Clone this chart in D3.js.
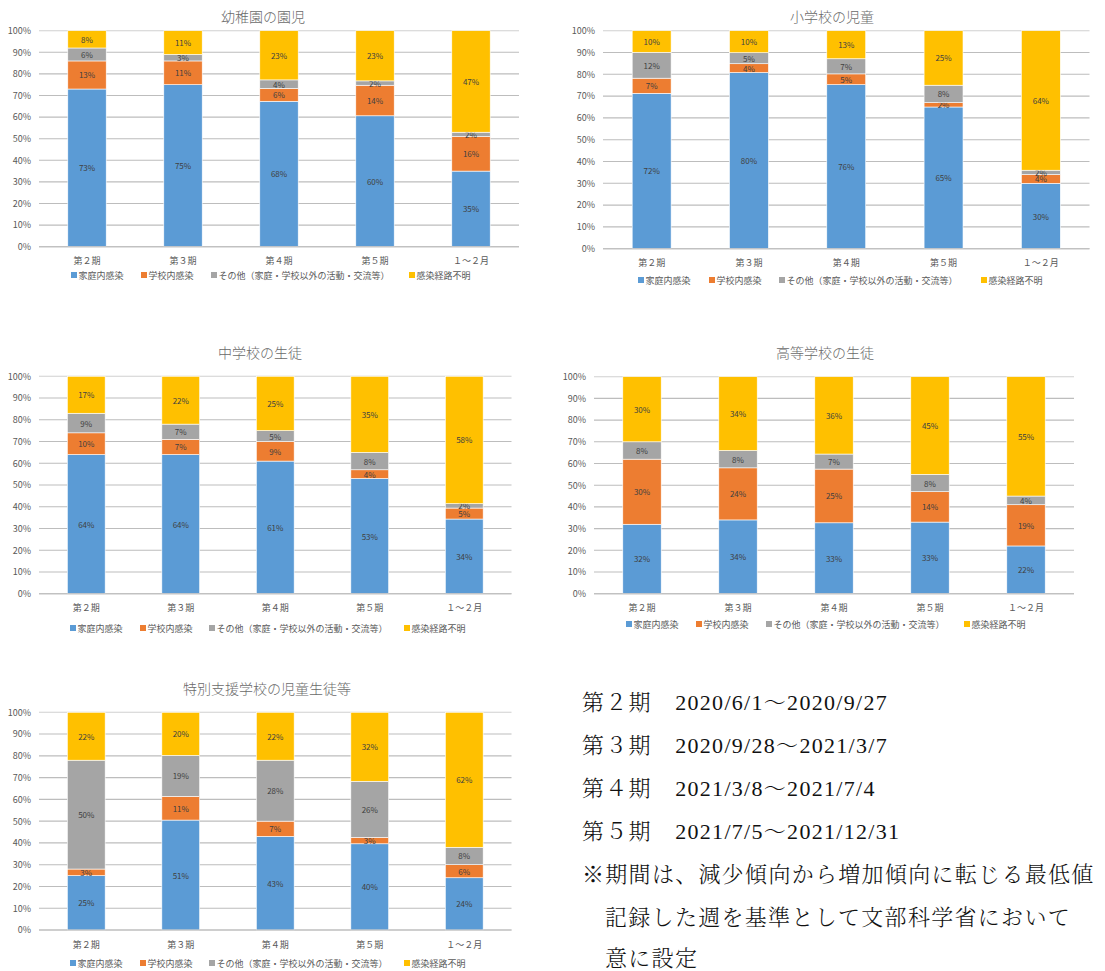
<!DOCTYPE html>
<html>
<head>
<meta charset="utf-8">
<script src="https://cdn.jsdelivr.net/npm/d3@7/dist/d3.min.js"></script>
<style>
  html, body { margin: 0; padding: 0; background: #fff; overflow: hidden; }
  svg { display: block; }
</style>
</head>
<body>
<svg id="chart" width="1105" height="971"></svg>
<script>
// ---------- data ----------
const categories = ["第２期", "第３期", "第４期", "第５期", "１～２月"];
const seriesNames = ["家庭内感染", "学校内感染", "その他（家庭・学校以外の活動・交流等）", "感染経路不明"];
const seriesColors = ["#5B9BD5", "#ED7D31", "#A5A5A5", "#FFC000"];
const yTicks = [0, 10, 20, 30, 40, 50, 60, 70, 80, 90, 100];

// each row: [家庭内, 学校内, その他, 不明] per category
const kindergartenValues = [[73, 13, 6, 8], [75, 11, 3, 11], [68, 6, 4, 23], [60, 14, 2, 23], [35, 16, 2, 47]];
const elementaryValues   = [[72, 7, 12, 10], [80, 4, 5, 10], [76, 5, 7, 13], [65, 2, 8, 25], [30, 4, 2, 64]];
const juniorHighValues   = [[64, 10, 9, 17], [64, 7, 7, 22], [61, 9, 5, 25], [53, 4, 8, 35], [34, 5, 2, 58]];
const highSchoolValues   = [[32, 30, 8, 30], [34, 24, 8, 34], [33, 25, 7, 36], [33, 14, 8, 45], [22, 19, 4, 55]];
const specialNeedsValues = [[25, 3, 50, 22], [51, 11, 19, 20], [43, 7, 28, 22], [40, 3, 26, 32], [24, 6, 8, 62]];

const chartTitles = ["幼稚園の園児", "小学校の児童", "中学校の生徒", "高等学校の生徒", "特別支援学校の児童生徒等"];

const noteLines = [
  "第２期　2020/6/1～2020/9/27",
  "第３期　2020/9/28～2021/3/7",
  "第４期　2021/3/8～2021/7/4",
  "第５期　2021/7/5～2021/12/31",
  "※期間は、減少傾向から増加傾向に転じる最低値",
  "記録した週を基準として文部科学省において",
  "意に設定"
];

// ---------- layout ----------
const layouts = [
  { values: kindergartenValues, title: chartTitles[0], tx: 263, ty: 16, x0: 39, x1: 519, yTop: 30.7, yBot: 246.7, labY: 261, legY: 275, legX: [71, 141, 211, 409] },
  { values: elementaryValues, title: chartTitles[1], tx: 832, ty: 16, x0: 603, x1: 1089.5, yTop: 30.7, yBot: 248.7, labY: 263, legY: 280, legX: [638, 709, 779, 981] },
  { values: juniorHighValues, title: chartTitles[2], tx: 260, ty: 352, x0: 39, x1: 511.5, yTop: 376.3, yBot: 593.7, labY: 608, legY: 628, legX: [70, 140, 209, 404] },
  { values: highSchoolValues, title: chartTitles[3], tx: 825, ty: 352, x0: 594, x1: 1074, yTop: 376.7, yBot: 593.7, labY: 608, legY: 624, legX: [626, 696, 766, 964] },
  { values: specialNeedsValues, title: chartTitles[4], tx: 267, ty: 688, x0: 39, x1: 511.5, yTop: 712.3, yBot: 930, labY: 944, legY: 963, legX: [70, 140, 209, 404] }
];

const FONT = "'Noto Sans CJK JP', 'Noto Sans', sans-serif";
const svg = d3.select("#chart");

layouts.forEach(L => {
  const g = svg.append("g");
  const x = d3.scaleBand().domain(categories).range([L.x0, L.x1]).paddingInner(0.6).paddingOuter(0.3);
  const y = d3.scaleLinear().domain([0, 1]).range([L.yBot, L.yTop]);

  // title
  g.append("text").attr("x", L.tx).attr("y", L.ty).attr("text-anchor", "middle")
    .attr("dominant-baseline", "central").attr("font-family", FONT).attr("font-size", 14)
    .attr("font-weight", 300).attr("fill", "#6a6a6a").text(L.title);

  // gridlines
  g.append("g").selectAll("line").data(yTicks).join("line")
    .attr("x1", L.x0).attr("x2", L.x1)
    .attr("y1", d => y(d / 100)).attr("y2", d => y(d / 100))
    .attr("stroke", d => d === 100 ? "#D0D0D0" : "#BDBDBD").attr("stroke-width", 1.1);

  // y axis labels
  const yAxis = d3.axisLeft(y).tickValues(yTicks.map(d => d / 100)).tickFormat(d3.format(".0%")).tickSize(0).tickPadding(8);
  const ya = g.append("g").attr("transform", `translate(${L.x0},0)`).call(yAxis);
  ya.select(".domain").remove();
  ya.selectAll("text").attr("font-family", FONT).attr("font-size", 9).attr("fill", "#595959");

  // stacked data
  const rows = categories.map((c, i) => {
    const o = { cat: c };
    L.values[i].forEach((v, k) => o["s" + k] = v);
    return o;
  });
  const keys = seriesNames.map((_, k) => "s" + k);
  const stacked = d3.stack().keys(keys).offset(d3.stackOffsetExpand)(rows);

  const sg = g.append("g").selectAll("g").data(stacked).join("g")
    .attr("fill", (d, k) => seriesColors[k]);
  sg.selectAll("rect").data(d => d.map(p => ({ p, key: d.key }))).join("rect")
    .attr("x", d => x(d.p.data.cat))
    .attr("width", x.bandwidth())
    .attr("y", d => y(d.p[1]))
    .attr("height", d => y(d.p[0]) - y(d.p[1]))
    .attr("stroke", "#ffffff").attr("stroke-width", 0.6);

  // data labels
  sg.selectAll("text").data(d => d.map(p => ({ p, key: d.key }))).join("text")
    .attr("x", d => x(d.p.data.cat) + x.bandwidth() / 2)
    .attr("y", d => (y(d.p[0]) + y(d.p[1])) / 2)
    .attr("text-anchor", "middle").attr("dominant-baseline", "central")
    .attr("font-family", FONT).attr("font-size", 8).attr("fill", "#404040")
    .text(d => d.p.data[d.key] + "%");

  // x axis
  const xAxis = d3.axisBottom(x).tickSize(0).tickPadding(0);
  const xa = g.append("g").attr("transform", `translate(0,${L.yBot})`).call(xAxis);
  xa.select(".domain").attr("stroke", "#BDBDBD").attr("stroke-width", 1.1)
    .attr("d", `M${L.x0},0H${L.x1}`);
  xa.selectAll("text").attr("font-family", FONT).attr("font-size", 9).attr("fill", "#595959")
    .attr("dy", null).attr("y", L.labY - L.yBot).attr("dominant-baseline", "central");

  // legend
  const lg = g.append("g").selectAll("g").data(seriesNames).join("g")
    .attr("transform", (d, k) => `translate(${L.legX[k]},${L.legY})`);
  lg.append("rect").attr("x", 0).attr("y", -3).attr("width", 6).attr("height", 6)
    .attr("fill", (d, k) => seriesColors[k]);
  lg.append("text").attr("x", 7.5).attr("y", 0).attr("dominant-baseline", "central")
    .attr("font-family", FONT).attr("font-size", 9).attr("fill", "#595959").text(d => d);
});

// ---------- notes ----------
const noteX = [582, 582, 582, 582, 582, 605, 605];
const noteY = [702, 745, 788, 831, 874, 917, 958];
svg.append("g").selectAll("text").data(noteLines).join("text")
  .attr("x", (d, i) => noteX[i]).attr("y", (d, i) => noteY[i])
  .attr("dominant-baseline", "central")
  .attr("font-family", "'Liberation Serif', 'Noto Serif CJK JP', 'Noto Sans CJK JP', serif")
  .attr("font-size", 22).attr("font-weight", 300).attr("letter-spacing", 1.3).attr("fill", "#111")
  .text(d => d);
</script>
</body>
</html>
